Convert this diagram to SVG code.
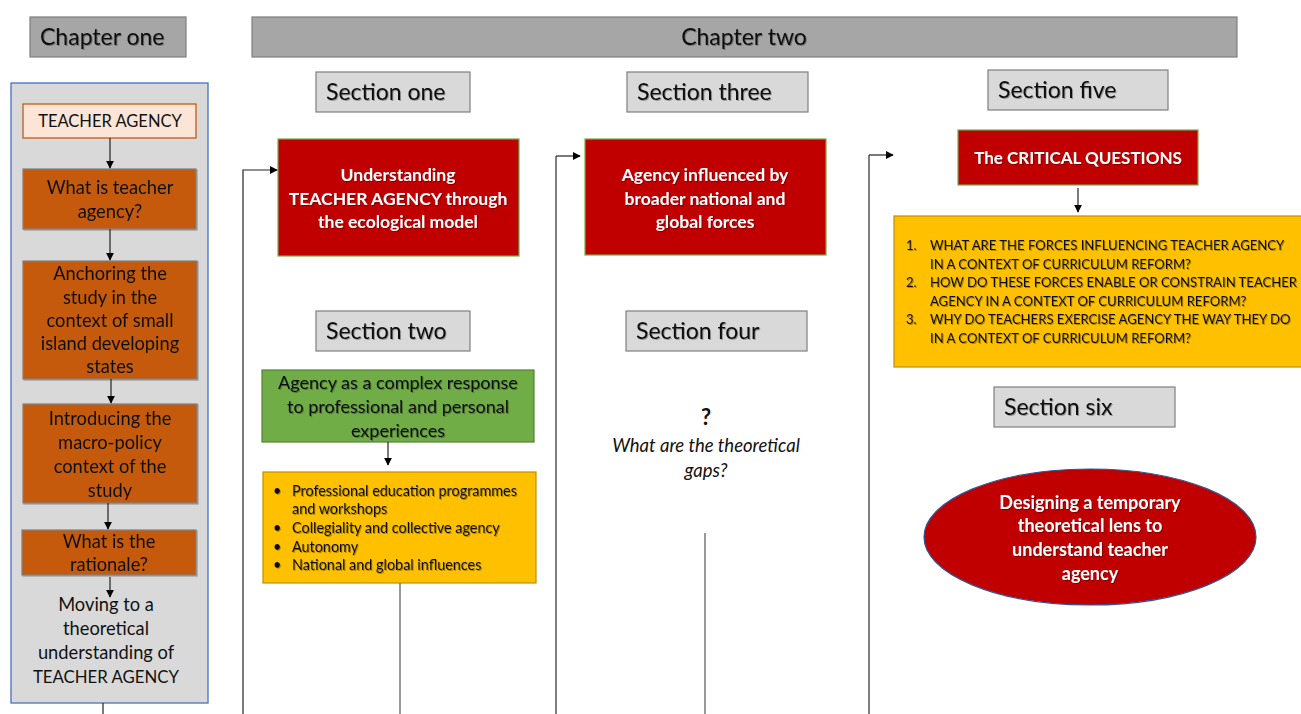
<svg xmlns="http://www.w3.org/2000/svg" width="1301" height="714" viewBox="0 0 1301 714">
<defs>
<marker id="ah" viewBox="0 0 10 10" refX="9" refY="5" markerWidth="8" markerHeight="8" markerUnits="userSpaceOnUse" orient="auto"><path d="M0,0 L10,5 L0,10 z" fill="#000"/></marker>
<filter id="sh" x="-5%" y="-20%" width="110%" height="140%"><feDropShadow dx="1" dy="1" stdDeviation="0.7" flood-color="#000" flood-opacity="0.3"/></filter>
<style>
text{font-family:Lato,"Liberation Sans",sans-serif;}
.hdr{fill:#a6a6a6;stroke:#7f7f7f;stroke-width:1.2;}
.sec{fill:#d9d9d9;stroke:#7f7f7f;stroke-width:1.2;}
.ht{font-size:23px;fill:#111;}
.brown{fill:#c55a11;stroke:#7f7f7f;stroke-width:1.2;}
.bt{font-size:18.3px;fill:#111;text-anchor:middle;}
.red{fill:#c00000;stroke:#70ad47;stroke-width:1.2;}
.rt{font-size:17.5px;fill:#fff;font-weight:bold;text-anchor:middle;}
.yel{fill:#ffc000;stroke:#bf9000;stroke-width:1.2;}
.yt{font-size:14.4px;fill:#111;}
.qt{font-size:13.1px;fill:#111;}
.conn{fill:none;stroke:#222;stroke-width:1.2;}
.gline{fill:none;stroke:#777;stroke-width:1.5;}
</style>
</defs>
<rect width="1301" height="714" fill="#fff"/>

<g id="chapter-one"><rect class="hdr" x="30" y="17" width="156" height="40"/><text class="ht" x="40" y="45" filter="url(#sh)">Chapter one</text></g>
<g id="chapter-two"><rect class="hdr" x="252" y="17" width="985" height="40"/><text class="ht" x="744" y="45" text-anchor="middle" filter="url(#sh)">Chapter two</text></g>

<g id="section-one"><rect class="sec" x="316" y="72" width="154" height="40"/><text class="ht" x="326" y="100" filter="url(#sh)">Section one</text></g>
<g id="section-two"><rect class="sec" x="316" y="311" width="154" height="40"/><text class="ht" x="326" y="339" filter="url(#sh)">Section two</text></g>
<g id="section-three"><rect class="sec" x="627" y="72" width="181" height="40"/><text class="ht" x="637" y="100" filter="url(#sh)">Section three</text></g>
<g id="section-four"><rect class="sec" x="626" y="311" width="181" height="40"/><text class="ht" x="636" y="339" filter="url(#sh)">Section four</text></g>
<g id="section-five"><rect class="sec" x="988" y="70" width="180" height="40"/><text class="ht" x="998" y="98" filter="url(#sh)">Section five</text></g>
<g id="section-six"><rect class="sec" x="994" y="387" width="181" height="40"/><text class="ht" x="1004" y="415" filter="url(#sh)">Section six</text></g>

<g id="chapter-one-panel">
<rect x="11" y="83" width="197" height="620" fill="#d9d9d9" stroke="#4472c4" stroke-width="1.3"/>
</g>
<g id="teacher-agency"><rect x="23" y="104" width="173" height="34" fill="#fce4d6" stroke="#c55a11" stroke-width="1.3"/><text class="bt" x="110" y="127" style="font-size:16.5px">TEACHER AGENCY</text></g>
<g id="what-is" filter="url(#sh)"><rect class="brown" x="23" y="169" width="173" height="60"/><text class="bt" x="110" y="194">What is teacher</text><text class="bt" x="110" y="218">agency?</text></g>
<g id="anchoring" filter="url(#sh)"><rect class="brown" x="23" y="261" width="174" height="118"/><text class="bt" x="110" y="280">Anchoring the</text><text class="bt" x="110" y="304">study in the</text><text class="bt" x="110" y="327">context of small</text><text class="bt" x="110" y="350">island developing</text><text class="bt" x="110" y="373">states</text></g>
<g id="introducing" filter="url(#sh)"><rect class="brown" x="23" y="404" width="174" height="99"/><text class="bt" x="110" y="425">Introducing the</text><text class="bt" x="110" y="449">macro-policy</text><text class="bt" x="110" y="473">context of the</text><text class="bt" x="110" y="497">study</text></g>
<g id="rationale" filter="url(#sh)"><rect class="brown" x="22" y="530" width="174" height="45"/><text class="bt" x="109" y="548">What is the</text><text class="bt" x="109" y="571">rationale?</text></g>
<g id="moving"><text class="bt" x="106" y="611">Moving to a</text><text class="bt" x="106" y="635">theoretical</text><text class="bt" x="106" y="659">understanding of</text><text class="bt" x="106" y="683" style="font-size:16.8px">TEACHER AGENCY</text></g>

<g id="understanding"><rect class="red" x="278" y="139" width="241" height="117"/><g filter="url(#sh)"><text class="rt" x="398" y="181">Understanding</text><text class="rt" x="398" y="205">TEACHER AGENCY through</text><text class="rt" x="398" y="228">the ecological model</text></g></g>
<g id="agency-influenced"><rect class="red" x="585" y="139" width="241" height="116"/><g filter="url(#sh)"><text class="rt" x="705" y="181">Agency influenced by</text><text class="rt" x="705" y="205">broader national and</text><text class="rt" x="705" y="228">global forces</text></g></g>
<g id="critical-questions"><rect class="red" x="958" y="130" width="240" height="55"/><text class="rt" x="1078" y="164" style="font-size:17px" filter="url(#sh)">The CRITICAL QUESTIONS</text></g>

<g id="questions"><rect class="yel" x="894" y="216" width="412" height="151"/>
<g filter="url(#sh)">
<text class="qt" x="906" y="250">1.</text><text class="qt" x="930" y="250">WHAT ARE THE FORCES INFLUENCING TEACHER AGENCY</text>
<text class="qt" x="930" y="269">IN A CONTEXT OF CURRICULUM REFORM?</text>
<text class="qt" x="906" y="287">2.</text><text class="qt" x="930" y="287">HOW DO THESE FORCES ENABLE OR CONSTRAIN TEACHER</text>
<text class="qt" x="930" y="306">AGENCY IN A CONTEXT OF CURRICULUM REFORM?</text>
<text class="qt" x="906" y="324">3.</text><text class="qt" x="930" y="324">WHY DO TEACHERS EXERCISE AGENCY THE WAY THEY DO</text>
<text class="qt" x="930" y="343">IN A CONTEXT OF CURRICULUM REFORM?</text>
</g>
</g>

<g id="complex-response"><rect x="262" y="370" width="272" height="72" fill="#70ad47" stroke="#548235" stroke-width="1.2"/><g filter="url(#sh)"><text class="bt" x="398" y="389" style="font-size:18px">Agency as a complex response</text><text class="bt" x="398" y="413" style="font-size:18px">to professional and personal</text><text class="bt" x="398" y="437" style="font-size:18px">experiences</text></g></g>
<g id="influences"><rect class="yel" x="263" y="472" width="273" height="111"/>
<g filter="url(#sh)">
<text class="yt" x="273" y="496">•</text><text class="yt" x="292" y="496">Professional education programmes</text>
<text class="yt" x="292" y="514">and workshops</text>
<text class="yt" x="273" y="533">•</text><text class="yt" x="292" y="533">Collegiality and collective agency</text>
<text class="yt" x="273" y="552">•</text><text class="yt" x="292" y="552">Autonomy</text>
<text class="yt" x="273" y="570">•</text><text class="yt" x="292" y="570">National and global influences</text>
</g>
</g>

<g id="gaps"><text x="706" y="425" text-anchor="middle" style="font-size:22px;font-weight:bold;fill:#111">?</text><text x="706" y="452" text-anchor="middle" style="font-size:18.5px;font-style:italic;fill:#111">What are the theoretical</text><text x="706" y="477" text-anchor="middle" style="font-size:18.5px;font-style:italic;fill:#111">gaps?</text></g>

<g id="lens"><ellipse cx="1090" cy="537" rx="166" ry="68" fill="#c00000" stroke="#2f5597" stroke-width="1.2"/><g filter="url(#sh)"><text class="rt" x="1090" y="509" style="font-size:18px">Designing a temporary</text><text class="rt" x="1090" y="532" style="font-size:18px">theoretical lens to</text><text class="rt" x="1090" y="556" style="font-size:18px">understand teacher</text><text class="rt" x="1090" y="580" style="font-size:18px">agency</text></g></g>

<g id="connectors">
<line class="conn" x1="110" y1="138" x2="110" y2="168" marker-end="url(#ah)"/>
<line class="conn" x1="110" y1="229" x2="110" y2="260" marker-end="url(#ah)"/>
<line class="conn" x1="111" y1="379" x2="111" y2="403" marker-end="url(#ah)"/>
<line class="conn" x1="108" y1="503" x2="108" y2="529" marker-end="url(#ah)"/>
<line class="conn" x1="110" y1="577" x2="110" y2="597" marker-end="url(#ah)"/>
<line class="conn" x1="103" y1="703" x2="103" y2="714"/>
<polyline class="conn" points="243,714 243,170 277,170" marker-end="url(#ah)"/>
<polyline class="gline" points="556,714 556,156" style="stroke:#555"/>
<line class="conn" x1="556" y1="156" x2="580" y2="156" marker-end="url(#ah)"/>
<polyline class="gline" points="869,714 869,155" style="stroke:#555"/>
<line class="conn" x1="869" y1="155" x2="893" y2="155" marker-end="url(#ah)"/>
<line class="conn" x1="388" y1="442" x2="388" y2="465" marker-end="url(#ah)"/>
<line class="conn" x1="1078" y1="188" x2="1078" y2="212" marker-end="url(#ah)"/>
<line class="gline" x1="400" y1="583" x2="400" y2="714"/>
<line class="gline" x1="705" y1="533" x2="705" y2="714"/>
</g>
</svg>
